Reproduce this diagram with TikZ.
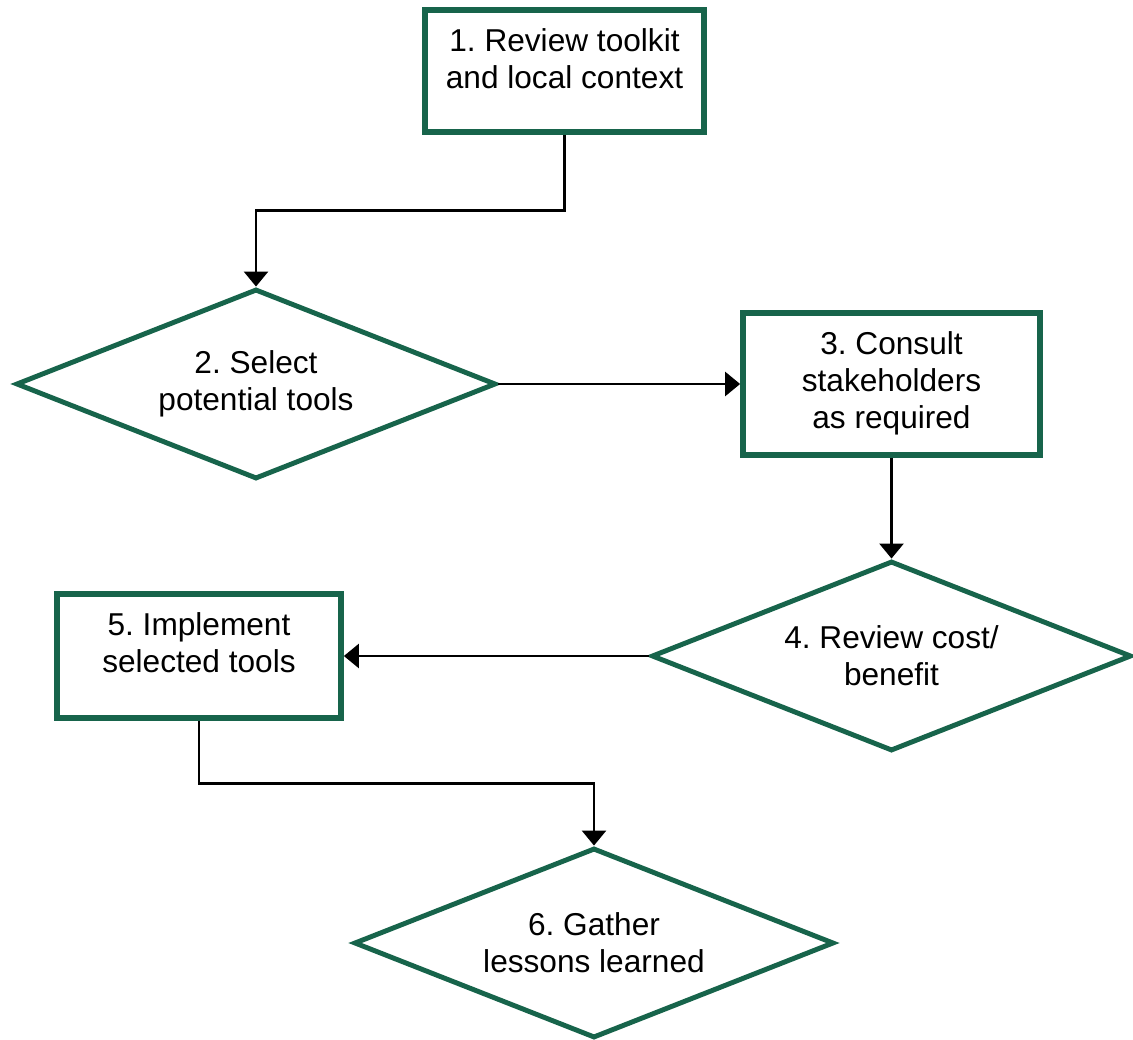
\documentclass[tikz,border=0pt]{standalone}
\usepackage{fontspec}
\setmainfont{Liberation Sans}
\usetikzlibrary{arrows.meta}
\usetikzlibrary{shapes.geometric}
\usetikzlibrary{calc}

\definecolor{stepgreen}{RGB}{23,100,75}
\newcommand{\steptext}{\fontsize{18pt}{21pt}\selectfont\frenchspacing}

\begin{document}
\begin{tikzpicture}[
        x=0.02cm, y=-0.02cm,
        stepbox/.style={
            rectangle, draw=stepgreen, line width=3.3pt, fill=white,
        },
        steplabel/.style={
            anchor=north, inner xsep=0pt, inner ysep=0.42cm,
            align=center, font=\steptext, text=black,
        },
        decision/.style={
            diamond, aspect=2.5, draw=stepgreen, line width=2.8pt, fill=white,
            minimum width=9.6cm, minimum height=3.8cm, inner sep=0pt,
            align=center, font=\steptext, text=black,
        },
        flow/.style={
            -{Triangle[length=0.3cm, width=0.48cm]}, line width=1.5pt, black,
        },
    ]
        \useasboundingbox (0,0) rectangle (1133,1040);

        % boxes, text sits at the top
        \node (stepone) at(564.5,71) [
            stepbox, minimum width=5.58cm, minimum height=2.44cm,
        ] {};
        \node at(stepone.north) [steplabel] {1. Review toolkit\\and local context};

        \node (stepthree) at(891.5,384) [
            stepbox, minimum width=5.94cm, minimum height=2.84cm,
        ] {};
        \node at(stepthree.north) [steplabel] {3. Consult\\stakeholders\\as required};

        \node (stepfive) at(199,656) [
            stepbox, minimum width=5.68cm, minimum height=2.48cm,
        ] {};
        \node at(stepfive.north) [steplabel] {5. Implement\\selected tools};

        % decisions
        \node (steptwo) at(256,384) [decision] {2. Select\\potential tools};
        \node (stepfour) at(891.5,656) [decision] {4. Review cost/\\benefit};
        \node (stepsix) at(594,943) [decision] {6. Gather\\lessons learned};

        % flow
        \draw[flow] (stepone.south) |- ($(stepone.south)!0.5!(steptwo.north)$) -| (steptwo.north);
        \draw[flow] (steptwo.east) -- (steptwo.east -| stepthree.west);
        \draw[flow] (stepthree.south) -- (stepfour.north);
        \draw[flow] (stepfour.west) -- (stepfour.west -| stepfive.east);
        \draw[flow] (stepfive.south) |- ($(stepfive.south)!0.5!(stepsix.north)$) -| (stepsix.north);
    \end{tikzpicture}
\end{document}
